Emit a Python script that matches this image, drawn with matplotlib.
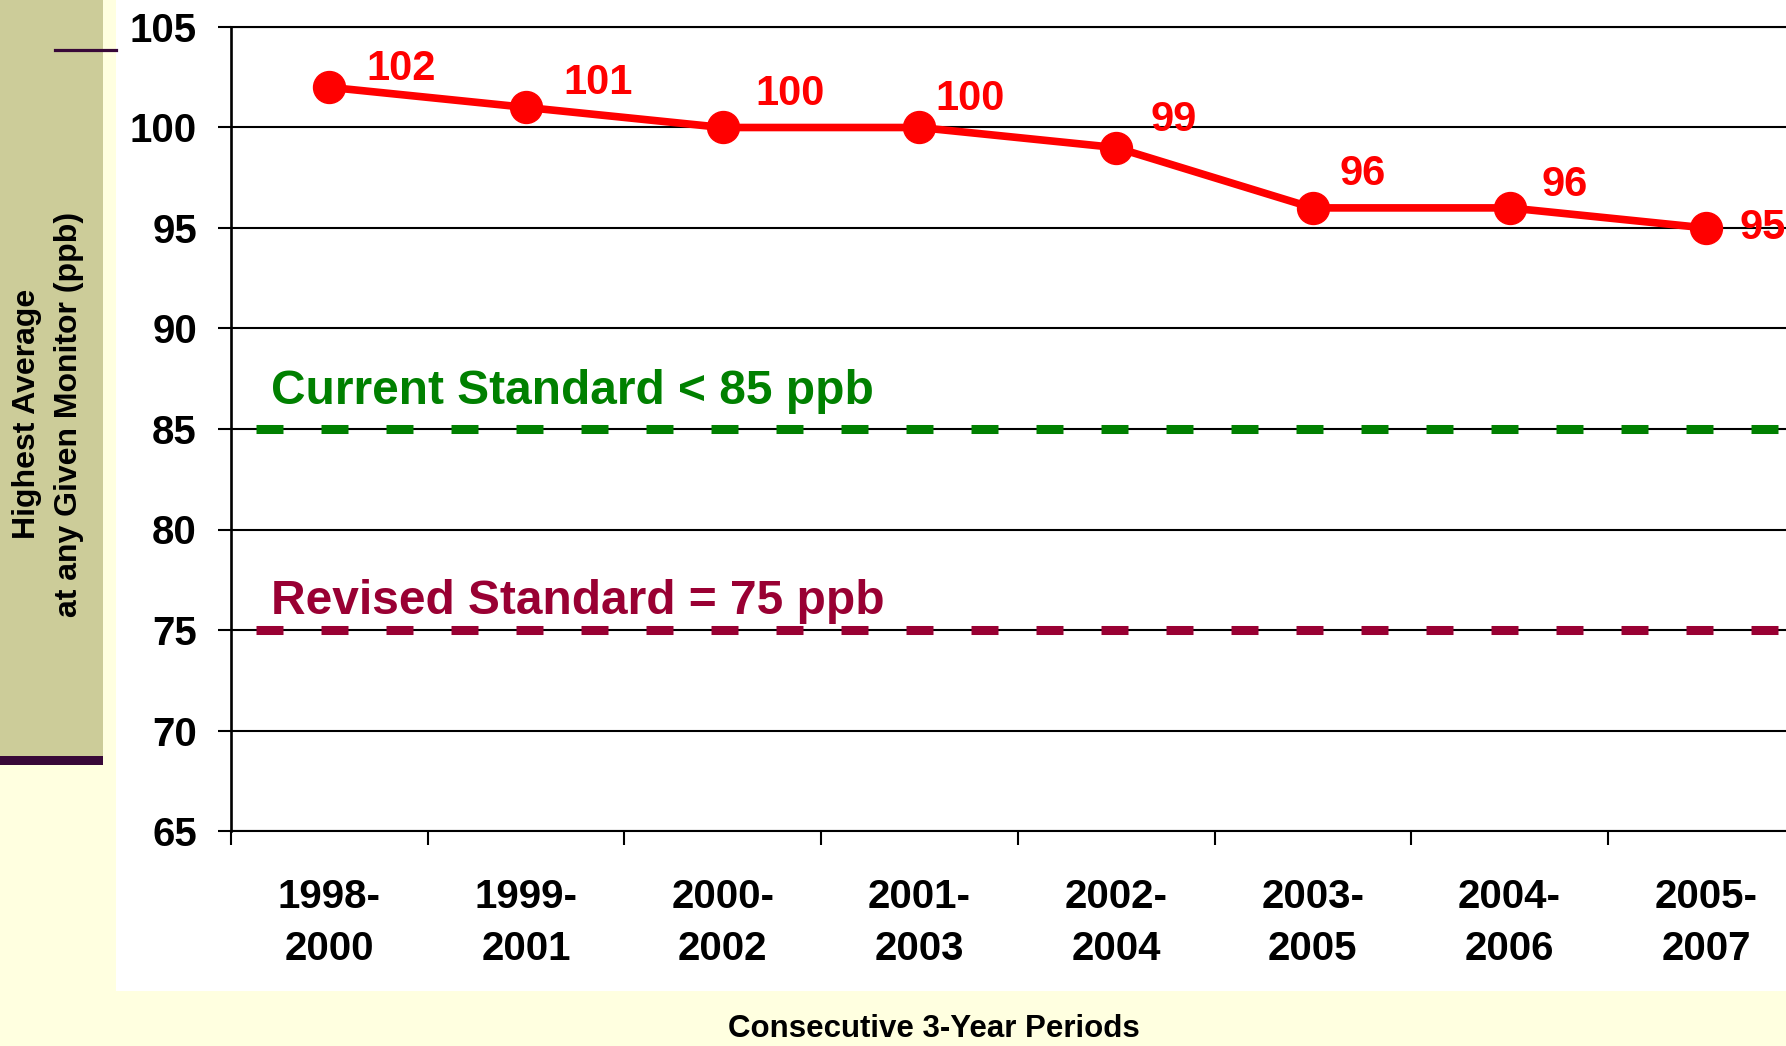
import numpy as np
import matplotlib.pyplot as plt
from matplotlib.patches import Rectangle
from matplotlib.lines import Line2D

# Datos
periods = ["1998-\n2000", "1999-\n2001", "2000-\n2002", "2001-\n2003",
           "2002-\n2004", "2003-\n2005", "2004-\n2006", "2005-\n2007"]
highest_avg = [102, 101, 100, 100, 99, 96, 96, 95]
current_std = 85
revised_std = 75
y_ticks = [65, 70, 75, 80, 85, 90, 95, 100, 105]

# offsets (px) of the value labels, placed by hand like in the original
label_dx = [72, 72, 67, 51, 57, 50, 55, 56]
label_dy = [18, 24, 33, 28, 28, 34, 23, 0]

plt.rcParams['font.family'] = ['Liberation Sans', 'DejaVu Sans']
plt.rcParams['font.weight'] = 'bold'

W, H = 1786, 1046
fig = plt.figure(figsize=(W / 100, H / 100), dpi=100, facecolor='#FFFFE0')

# ---------------------------------------------------------
# Fondo de la diapositiva
# ---------------------------------------------------------
fig.add_artist(Rectangle((116 / W, 1 - 991 / H), 1, 991 / H, transform=fig.transFigure,
                         facecolor='white', edgecolor='none', zorder=-10))
fig.add_artist(Rectangle((0, 1 - 756 / H), 103 / W, 756 / H, transform=fig.transFigure,
                         facecolor='#CCCC99', edgecolor='none', zorder=-9))
fig.add_artist(Rectangle((0, 1 - 765 / H), 103 / W, 9 / H, transform=fig.transFigure,
                         facecolor='#380838', edgecolor='none', zorder=-9))
fig.add_artist(Line2D([55 / W, 116 / W], [1 - 50 / H, 1 - 50 / H], transform=fig.transFigure,
                      color='#380838', lw=2.3))

# ---------------------------------------------------------
# Ejes
# ---------------------------------------------------------
ax = fig.add_axes([231 / W, 1 - 831 / H, (W - 231) / W, 804 / H])
x = np.arange(len(periods))

ax.set_yticks(y_ticks)
ax.yaxis.grid(True, color='black', lw=1.5)
ax.set_axisbelow(True)
ax.tick_params(axis='y', direction='out', length=9.5, width=1.5, pad=15,
               labelsize=29, colors='black')

ax.set_xticks(np.arange(-0.5, len(periods)))
ax.set_xticklabels([])
ax.tick_params(axis='x', which='major', direction='out', length=10, width=1.5)
ax.set_xticks(x, minor=True)
ax.set_xticklabels(periods, minor=True, fontsize=29, linespacing=1.46)
ax.tick_params(axis='x', which='minor', length=0, pad=34)

# limits after the ticks, otherwise set_xticks widens them
ax.set_xlim(-0.5, (W - 231) / 196.7 - 0.5)
ax.set_ylim(65, 105)

ax.spines['right'].set_visible(False)
ax.spines['top'].set_linewidth(1.5)
ax.spines['bottom'].set_linewidth(1.5)
ax.spines['left'].set_linewidth(1.9)

# ---------------------------------------------------------
# Estándares
# ---------------------------------------------------------
ax.axhline(current_std, color='#008000', lw=6.5, linestyle=(4.43, (2.99, 4.21)), zorder=4)
ax.axhline(revised_std, color='#990033', lw=6.5, linestyle=(4.43, (2.99, 4.21)), zorder=4)
ax.annotate("Current Standard < 85 ppb", xy=(-0.5, current_std), xytext=(40, 25),
            textcoords='offset pixels', va='baseline', ha='left', fontsize=34.5, color='#008000')
ax.annotate("Revised Standard = 75 ppb", xy=(-0.5, revised_std), xytext=(40, 16),
            textcoords='offset pixels', va='baseline', ha='left', fontsize=34.5, color='#990033')

# ---------------------------------------------------------
# Serie
# ---------------------------------------------------------
ax.plot(x, highest_avg, color='red', lw=5.5, marker='o', ms=23, zorder=5)
for i, v in enumerate(highest_avg):
    ax.annotate(str(v), xy=(i, v), xytext=(label_dx[i], label_dy[i]),
                textcoords='offset pixels', ha='center', va='center',
                fontsize=30, color='red', annotation_clip=False)

# ---------------------------------------------------------
# Títulos de ejes
# ---------------------------------------------------------
fig.text(48 / W, 1 - 414 / H, "Highest Average\nat any Given Monitor (ppb)", rotation=90,
         ha='center', va='center', multialignment='center', fontsize=23, linespacing=1.54)
fig.text(934 / W, 1 - 1037 / H, "Consecutive 3-Year Periods", ha='center', va='baseline',
         fontsize=22.5)

plt.savefig("out.png", dpi=100, facecolor=fig.get_facecolor())
